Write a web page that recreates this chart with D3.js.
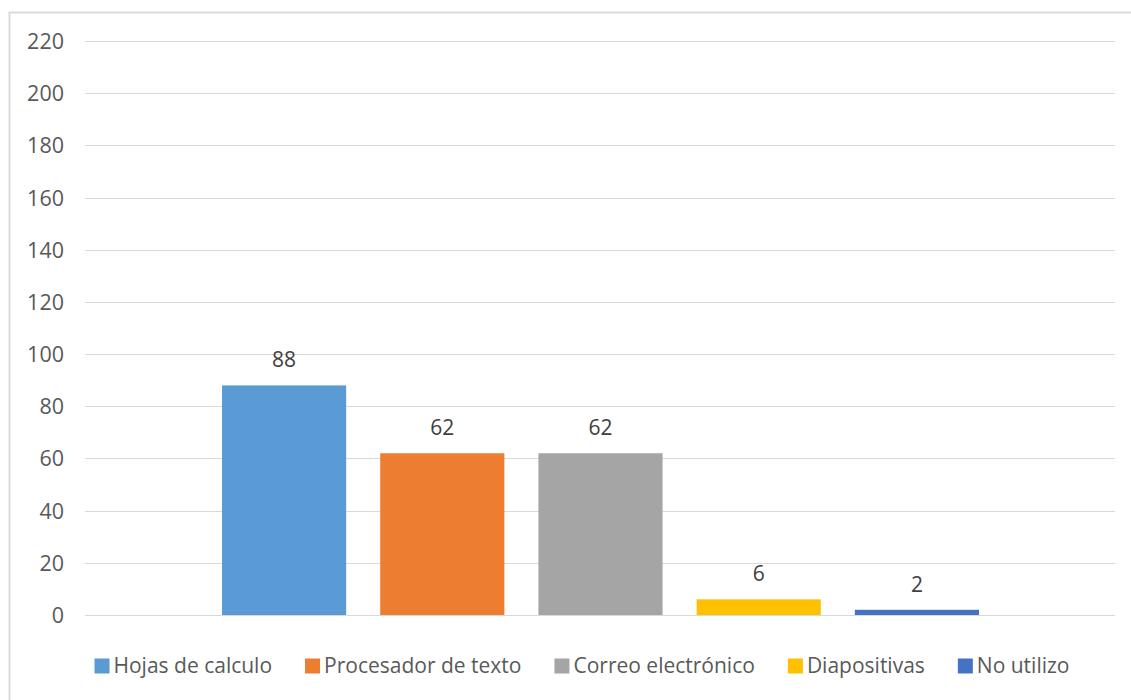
<!DOCTYPE html>
<html>
<head>
<meta charset="utf-8">
<script src="https://cdn.jsdelivr.net/npm/d3@7"></script>
<style>
    body { margin: 0; background: #fff; }
    .chart text { font-family: "Open Sans", "Noto Sans", sans-serif; }
</style>
</head>
<body>
<div class="chart"></div>
<script>
// series of the single category, one bar each
let seriesNames = ['Hojas de calculo', 'Procesador de texto', 'Correo electrónico', 'Diapositivas', 'No utilizo'];
let seriesValues = [88, 62, 62, 6, 2];
let seriesColors = ['#5B9BD5', '#ED7D31', '#A5A5A5', '#FFC000', '#4472C4'];
let yTicks = [0, 20, 40, 60, 80, 100, 120, 140, 160, 180, 200, 220];

let width = 1131, height = 700;
let plot = { left: 85, right: 1115, top: 41, bottom: 615 };

let svg = d3.select('.chart')
    .append('svg')
    .attr('width', width)
    .attr('height', height);

// chart area border
svg.append('rect')
    .attr('x', 9.5)
    .attr('y', 12.5)
    .attr('width', width + 20)
    .attr('height', height + 20)
    .attr('fill', '#fff')
    .attr('stroke', '#d9d9d9')
    .attr('stroke-width', 2);

// #region scales
let yScale = d3.scaleLinear()
    .domain([0, 220])
    .range([plot.bottom, plot.top]);

let xScale = d3.scaleBand()
    .domain(seriesNames)
    .range([plot.left + 137, plot.right - 136])
    .paddingInner(34 / 158)
    .paddingOuter(0);
// #endregion

// #region grid + y labels
let gGrid = svg.append('g').attr('class', 'grid');
gGrid.selectAll('line')
    .data(yTicks)
    .enter()
    .append('line')
    .attr('x1', plot.left)
    .attr('x2', plot.right)
    .attr('y1', d => Math.round(yScale(d)) + 0.5)
    .attr('y2', d => Math.round(yScale(d)) + 0.5)
    .attr('stroke', '#d9d9d9')
    .attr('stroke-width', 1.2);

let gYAxis = svg.append('g')
    .attr('class', 'yScale')
    .attr('transform', 'translate(' + (plot.left - 21) + ', 0)')
    .call(d3.axisLeft(yScale).tickValues(yTicks).tickSize(0).tickPadding(0));
gYAxis.select('.domain').remove();
gYAxis.selectAll('text')
    .attr('font-size', 21.5)
    .attr('fill', '#595959')
    .attr('dy', '0.35em');
// #endregion

// #region bars + labels
svg.append('g')
    .attr('class', 'bars')
    .selectAll('rect')
    .data(seriesNames)
    .enter()
    .append('rect')
    .attr('x', d => xScale(d))
    .attr('y', (d, i) => yScale(seriesValues[i]))
    .attr('width', xScale.bandwidth())
    .attr('height', (d, i) => yScale(0) - yScale(seriesValues[i]))
    .attr('fill', (d, i) => seriesColors[i]);

svg.append('g')
    .attr('class', 'labels')
    .selectAll('text')
    .data(seriesNames)
    .enter()
    .append('text')
    .attr('x', d => xScale(d) + xScale.bandwidth() / 2)
    .attr('y', (d, i) => yScale(seriesValues[i]) - 18)
    .attr('text-anchor', 'middle')
    .attr('font-size', 21)
    .attr('fill', '#404040')
    .text((d, i) => seriesValues[i]);
// #endregion

// #region legend
let gLegend = svg.append('g').attr('class', 'legend');
let items = gLegend.selectAll('g')
    .data(seriesNames)
    .enter()
    .append('g');
items.append('rect')
    .attr('width', 15)
    .attr('height', 15)
    .attr('y', -7.5)
    .attr('fill', (d, i) => seriesColors[i]);
items.append('text')
    .attr('x', 19)
    .attr('dy', '0.35em')
    .attr('font-size', 21)
    .attr('fill', '#595959')
    .text(d => d);

let gap = 33;
let widths = [];
items.each(function () { widths.push(19 + this.querySelector('text').getComputedTextLength()); });
let total = d3.sum(widths) + gap * (widths.length - 1);
let cx = 582 - total / 2;
items.attr('transform', (d, i) => {
    let x = cx;
    cx += widths[i] + gap;
    return 'translate(' + x + ', 666)';
});
// #endregion
</script>
</body>
</html>
